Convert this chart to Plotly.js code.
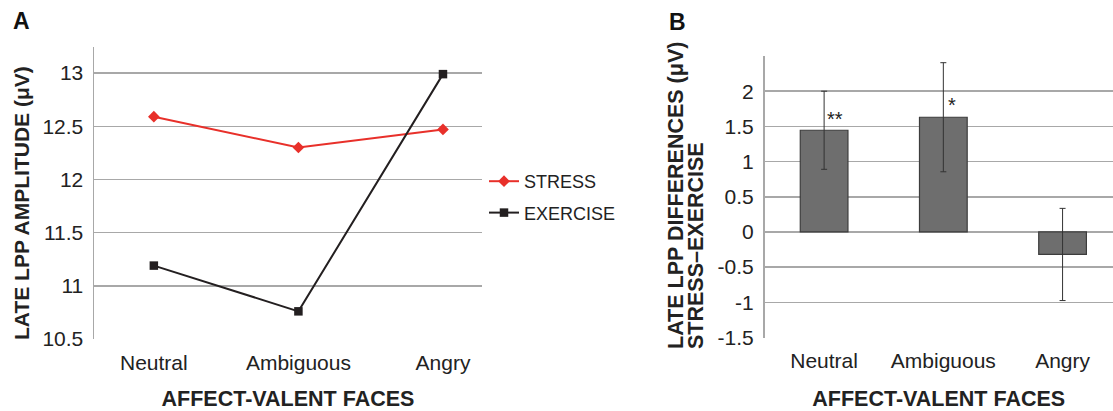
<!DOCTYPE html>
<html>
<head>
<meta charset="utf-8">
<script src="https://cdn.plot.ly/plotly-3.0.1.min.js"></script>
<style>html,body{margin:0;padding:0;background:#fff;}#chart{width:1113px;height:411px;}</style>
</head>
<body>
<div id="chart"></div>
<script>
// ---- data ----
var categories = ['Neutral', 'Ambiguous', 'Angry'];
var stress = [12.59, 12.30, 12.47];
var exercise = [11.19, 10.76, 12.99];
var diff = [1.445, 1.63, -0.32];
var diffErr = [0.555, 0.775, 0.655];
var sigMarks = ['**', '*', ''];
var seriesNames = ['STRESS', 'EXERCISE'];
var yTitleA = 'LATE LPP AMPLITUDE (\u03bcV)';
var yTitleB1 = 'LATE LPP DIFFERENCES (\u03bcV)';
var yTitleB2 = 'STRESS\u2013EXERCISE';
var xTitle = 'AFFECT-VALENT FACES';
var yTicksA = [10.5, 11, 11.5, 12, 12.5, 13];
var yTicksB = [-1.5, -1, -0.5, 0, 0.5, 1, 1.5, 2];

var W = 1113, H = 411;
function px(x) { return x / W; }
function py(y) { return (H - y) / H; }

var FONT = '"Liberation Sans", Arial, Helvetica, sans-serif';
var GRID = '#a8a8a8';

var traces = [
  {
    x: categories, y: stress, name: seriesNames[0], type: 'scatter', mode: 'lines+markers',
    xaxis: 'x', yaxis: 'y', legendgroup: 'a',
    line: {color: '#e8302a', width: 2},
    marker: {symbol: 'diamond', size: 9, color: '#e8302a'}
  },
  {
    x: categories, y: exercise, name: seriesNames[1], type: 'scatter', mode: 'lines+markers',
    xaxis: 'x', yaxis: 'y', legendgroup: 'b',
    line: {color: '#231f20', width: 2},
    marker: {symbol: 'square', size: 8.5, color: '#231f20'}
  },
  {
    x: categories, y: diff, type: 'bar', xaxis: 'x2', yaxis: 'y2', showlegend: false,
    width: 0.4,
    marker: {color: '#6e6e6e', line: {color: '#3c3c3c', width: 1.2}},
    error_y: {type: 'data', array: diffErr, visible: true, color: '#333333', thickness: 1, width: 3}
  }
];

var annotations = [
  {text: '<b>A</b>', xref: 'paper', yref: 'paper', x: px(21), y: py(21), xanchor: 'center', yanchor: 'middle', showarrow: false, font: {family: FONT, size: 23, color: '#111'}},
  {text: '<b>B</b>', xref: 'paper', yref: 'paper', x: px(677), y: py(22), xanchor: 'center', yanchor: 'middle', showarrow: false, font: {family: FONT, size: 23, color: '#111'}},
  {text: '<b>' + yTitleA + '</b>', xref: 'paper', yref: 'paper', x: px(22), y: py(203), xanchor: 'center', yanchor: 'middle', textangle: -90, showarrow: false, font: {family: FONT, size: 21, color: '#222'}},
  {text: '<b>' + yTitleB1 + '</b>', xref: 'paper', yref: 'paper', x: px(676), y: py(196), xanchor: 'center', yanchor: 'middle', textangle: -90, showarrow: false, font: {family: FONT, size: 21.5, color: '#222'}},
  {text: '<b>' + yTitleB2 + '</b>', xref: 'paper', yref: 'paper', x: px(696), y: py(246), xanchor: 'center', yanchor: 'middle', textangle: -90, showarrow: false, font: {family: FONT, size: 21.5, color: '#222'}}
];
var sigShiftX = [11, 8.5, 0];
var sigShiftY = [11, 12, 0];
for (var i = 0; i < categories.length; i++) {
  if (sigMarks[i]) {
    annotations.push({
      text: sigMarks[i], xref: 'x2', yref: 'y2', x: categories[i], y: diff[i],
      xshift: sigShiftX[i], yshift: sigShiftY[i], xanchor: 'center', yanchor: 'middle', showarrow: false,
      font: {family: FONT, size: 20, color: '#222'}
    });
  }
}

var tickFont = {family: FONT, size: 21, color: '#222'};
var titleFont = {family: FONT, size: 21.5, color: '#222'};

var layout = {
  width: W, height: H,
  margin: {l: 0, r: 0, t: 0, b: 0},
  paper_bgcolor: '#ffffff', plot_bgcolor: '#ffffff',
  showlegend: true,
  legend: {x: px(484), y: py(163), xanchor: 'left', yanchor: 'top', font: {family: FONT, size: 18, color: '#222'},
           traceorder: 'grouped', tracegroupgap: 5, itemwidth: 30, bgcolor: 'rgba(0,0,0,0)'},
  xaxis: {
    domain: [px(94), px(482)], anchor: 'y', type: 'category', range: [-0.414, 2.27],
    showgrid: false, zeroline: false, showline: false,
    ticks: 'outside', ticklen: 5, tickcolor: 'rgba(0,0,0,0)', tickfont: tickFont,
    title: {text: '<b>' + xTitle + '</b>', font: titleFont, standoff: 25}
  },
  yaxis: {
    domain: [py(339), py(47)], anchor: 'x', range: [10.5, 13.245],
    tickvals: yTicksA, ticktext: yTicksA.map(String),
    showgrid: true, gridcolor: GRID, gridwidth: 1.5, zeroline: false,
    showline: true, linecolor: GRID, linewidth: 1.5,
    ticks: 'outside', ticklen: 5, tickcolor: 'rgba(0,0,0,0)', tickfont: tickFont
  },
  xaxis2: {
    domain: [px(764.5), 1], anchor: 'y2', type: 'category', range: [-0.5, 2.423],
    showgrid: false, zeroline: false, showline: false,
    ticks: 'outside', ticklen: 4, tickcolor: 'rgba(0,0,0,0)', tickfont: tickFont,
    title: {text: '<b>' + xTitle + '</b>', font: titleFont, standoff: 28}
  },
  yaxis2: {
    domain: [py(337.5), py(56)], anchor: 'x2', range: [-1.5, 2.5],
    tickvals: yTicksB, ticktext: yTicksB.map(String),
    showgrid: true, gridcolor: GRID, gridwidth: 1.5, zeroline: false,
    showline: true, linecolor: GRID, linewidth: 1.5,
    ticks: 'outside', ticklen: 5, tickcolor: 'rgba(0,0,0,0)', tickfont: tickFont
  },
  annotations: annotations
};

Plotly.newPlot('chart', traces, layout, {displayModeBar: false, staticPlot: true});
</script>
</body>
</html>
